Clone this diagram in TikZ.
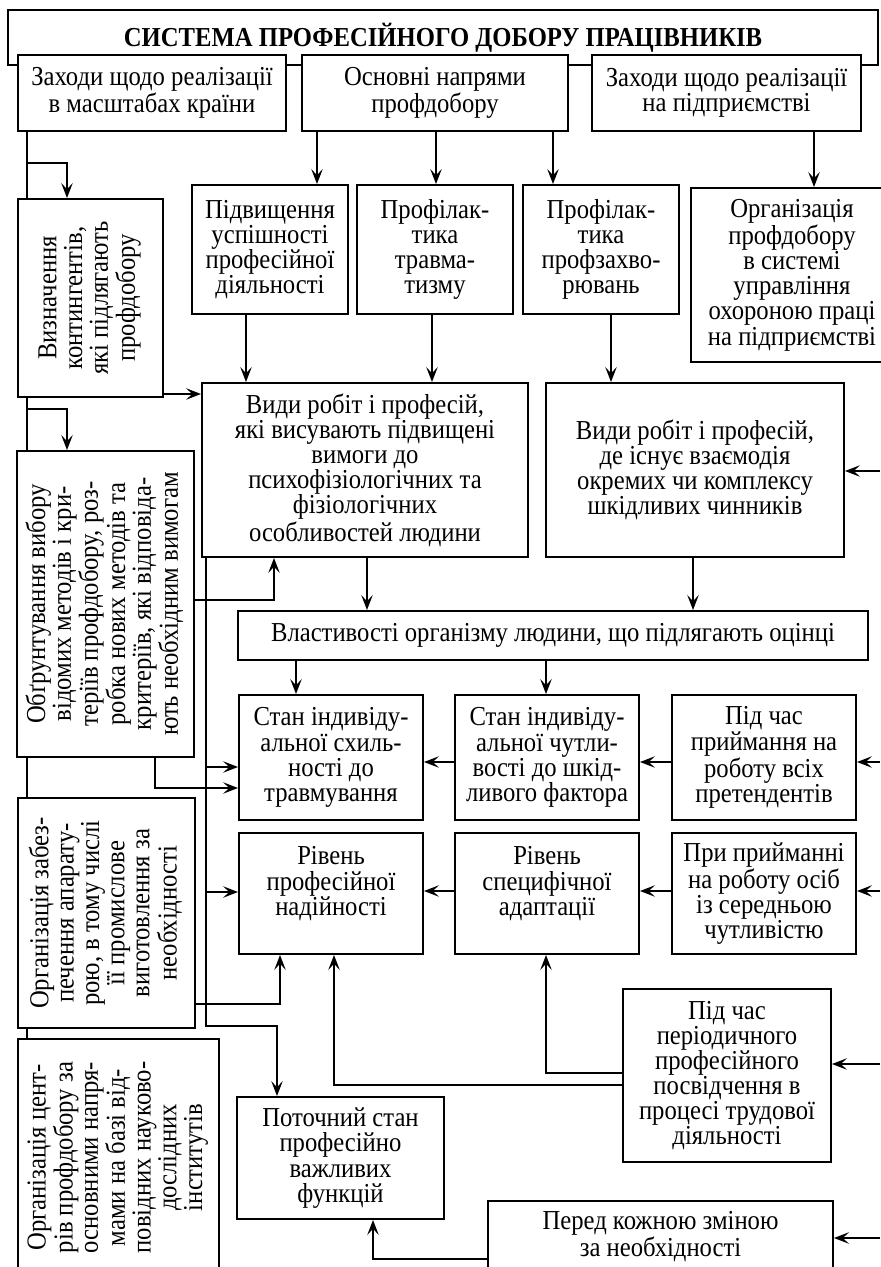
\documentclass[tikz,border=0pt]{standalone}
\usepackage{fontspec}
\setmainfont{Liberation Serif}[FakeStretch=0.9]
\usepackage{graphicx}
\usetikzlibrary{arrows.meta,backgrounds}

\newcommand{\vtext}[1]{\rotatebox{90}{\begin{tabular}{@{}c@{}}#1\end{tabular}}}

\tikzset{
    box/.style={draw, fill=white, line width=1.1pt, align=center, inner sep=2pt,
        font=\fontsize{15.6}{14.3}\selectfont},
    sz/.style 2 args={minimum width=#1*0.02cm, minimum height=#2*0.02cm},
    wire/.style={line width=1.1pt},
    link/.style={line width=1.1pt, -{Stealth[length=8.5pt,width=6.5pt,inset=3.5pt]}}
}

\begin{document}
\begin{tikzpicture}[x=0.02cm, y=-0.02cm]
    \useasboundingbox (0,0) rectangle (880,1267);

    % Nodes
    \node (title) [box, sz={870}{55}, font=\fontsize{15.6}{14.3}\selectfont\bfseries] at (443,37.5) {СИСТЕМА ПРОФЕСІЙНОГО ДОБОРУ ПРАЦІВНИКІВ};
    \node (country) [box, sz={268}{76}] at (152,93) {Заходи щодо реалізації\\в масштабах країни};
    \node (main_dir) [box, sz={266}{76}] at (435,93) {Основні напрями\\профдобору};
    \node (enterprise) [box, sz={269}{76}] at (726.5,93) {Заходи щодо реалізації\\на підприємстві};

    \node (contingents) [box, sz={145}{198}] at (90.5,298) {\vtext{Визначення\\контингентів,\\які підлягають\\профдобору}};
    \node (methods) [box, sz={177}{306}] at (105.5,604) {\vtext{Обґрунтування вибору\\відомих методів і кри-\\теріїв профдобору, роз-\\робка нових методів та\\критеріїв, які відповіда-\\ють необхідним вимогам}};
    \node (equipment) [box, sz={177}{230}] at (106.5,913) {\vtext{Організація забез-\\печення апарату-\\рою, в тому числі\\її промислове\\виготовлення за\\необхідності}};
    \node (centres) [box, sz={201}{237}] at (118.5,1157.5) {\vtext{Організація цент-\\рів профдобору за\\основними напря-\\мами на базі від-\\повідних науково-\\дослідних\\інститутів}};

    \node (success) [box, sz={156}{129}] at (270,249.5) {Підвищення\\успішності\\професійної\\діяльності};
    \node (injury) [box, sz={156}{129}] at (435,249.5) {Профілак-\\тика\\травма-\\тизму};
    \node (disease) [box, sz={156}{129}] at (601,249.5) {Профілак-\\тика\\профзахво-\\рювань};
    \node (ohs_org) [box, sz={202}{174}] at (792,275) {Організація\\профдобору\\в системі\\управління\\охороною праці\\на підприємстві};

    \node (work_psy) [box, sz={326}{174}] at (365,470) {Види робіт і професій,\\які висувають підвищені\\вимоги до\\психофізіологічних та\\фізіологічних\\особливостей людини};
    \node (work_harm) [box, sz={298}{174}] at (695,470) {Види робіт і професій,\\де існує взаємодія\\окремих чи комплексу\\шкідливих чинників};
    \node (props) [box, sz={630}{49}] at (553,635.5) {Властивості організму людини, що підлягають оцінці};

    \node (inj_state) [box, sz={184}{125}] at (331,757.5) {Стан індивіду-\\альної схиль-\\ності до\\травмування};
    \node (sens_state) [box, sz={184}{125}] at (547,757.5) {Стан індивіду-\\альної чутли-\\вості до шкід-\\ливого фактора};
    \node (hiring_all) [box, sz={184}{125}] at (764,757.5) {Під час\\приймання на\\роботу всіх\\претендентів};
    \node (reliab) [box, sz={184}{121}] at (331,893.5) {Рівень\\професійної\\надійності\\~};
    \node (adapt) [box, sz={184}{121}] at (547,893.5) {Рівень\\специфічної\\адаптації\\~};
    \node (hiring_mid) [box, sz={184}{121}] at (764,893.5) {При прийманні\\на роботу осіб\\із середньою\\чутливістю};

    \node (periodic) [box, sz={208}{173}] at (727,1075.5) {Під час\\періодичного\\професійного\\посвідчення в\\процесі трудової\\діяльності};
    \node (current) [box, sz={207}{122}] at (340.5,1158) {Поточний стан\\професійно\\важливих\\функцій};
    \node (shift) [box, sz={345}{71}] at (660.5,1236.5) {Перед кожною зміною\\за необхідності};

    \coordinate (bus_l) at (27,131);
    \coordinate (bus_m) at (206,557);
    \coordinate (edge_r) at (880,0);

    % Edges
    \begin{scope}[on background layer]
        \draw[wire] (country.south -| bus_l) -- (centres.north -| bus_l);
    \end{scope}
    \draw[link] (bus_l |- 0,163) -| (contingents.north -| 67,0);
    \draw[link] (bus_l |- 0,409) -| (methods.north -| 67,0);

    \draw[link] (main_dir.south -| 317,0) -- (success.north -| 317,0);
    \draw[link] (main_dir.south -| 436,0) -- (injury.north -| 436,0);
    \draw[link] (main_dir.south -| 553,0) -- (disease.north -| 553,0);
    \draw[link] (enterprise.south -| 814,0) -- (ohs_org.north -| 814,0);

    \draw[link] (success.south -| 246,0) -- (work_psy.north -| 246,0);
    \draw[link] (injury.south -| 432,0) -- (work_psy.north -| 432,0);
    \draw[link] (disease.south -| 611,0) -- (work_harm.north -| 611,0);
    \draw[link] (contingents.east |- 0,394) -- (work_psy.west |- 0,394);
    \draw[link] (methods.east |- 0,600) -| (work_psy.south -| 274,0);

    \draw[link] (bus_m) -- (bus_m |- 0,1026) -| (current.north -| 277,0);
    \draw[link] (bus_m |- 0,767) -- (inj_state.west |- 0,767);
    \draw[link] (bus_m |- 0,892) -- (reliab.west |- 0,892);

    \draw[link] (work_psy.south -| 367,0) -- (props.north -| 367,0);
    \draw[link] (work_harm.south -| 693,0) -- (props.north -| 693,0);
    \draw[link] (props.south -| 296,0) -- (inj_state.north -| 296,0);
    \draw[link] (props.south -| 546,0) -- (sens_state.north -| 546,0);
    \draw[link] (methods.south -| 155,0) |- (inj_state.west |- 0,788);

    \draw[link] (sens_state.west |- 0,762) -- (inj_state.east |- 0,762);
    \draw[link] (hiring_all.west |- 0,762) -- (sens_state.east |- 0,762);
    \draw[link] (adapt.west |- 0,891) -- (reliab.east |- 0,891);
    \draw[link] (hiring_mid.west |- 0,891) -- (adapt.east |- 0,891);

    \draw[link] (edge_r |- 0,471) -- (work_harm.east |- 0,471);
    \draw[link] (edge_r |- 0,762) -- (hiring_all.east |- 0,762);
    \draw[link] (edge_r |- 0,891) -- (hiring_mid.east |- 0,891);
    \draw[link] (edge_r |- 0,1064) -- (periodic.east |- 0,1064);
    \draw[link] (edge_r |- 0,1238) -- (shift.east |- 0,1238);

    \draw[link] (equipment.east |- 0,1004) -| (reliab.south -| 280,0);
    \draw[link] (periodic.west |- 0,1073) -| (adapt.south -| 546,0);
    \draw[link] (periodic.west |- 0,1085) -| (reliab.south -| 334,0);
    \draw[link] (shift.west |- 0,1259) -| (current.south -| 373,0);
\end{tikzpicture}
\end{document}
